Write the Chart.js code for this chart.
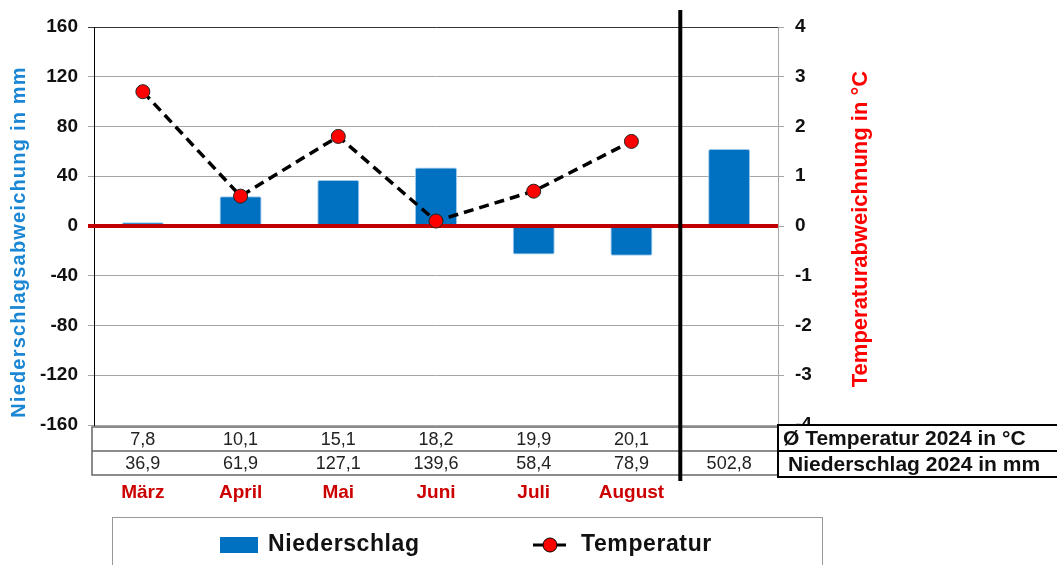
<!DOCTYPE html>
<html>
<head>
<meta charset="utf-8">
<script src="https://cdn.jsdelivr.net/npm/chart.js@4.4.1/dist/chart.umd.min.js"></script>
<style>
  html, body { margin: 0; padding: 0; background: #fff; }
  #wrap { width: 1057px; height: 565px; }
</style>
</head>
<body>
<div id="wrap"><canvas id="klimaChart" width="1057" height="565"></canvas></div>
<script>
// Werte
const monate = ['März', 'April', 'Mai', 'Juni', 'Juli', 'August', ''];
const niederschlagAbw = [3, 24, 37, 47, -23, -24, 62];
const temperaturAbw = [2.7, 0.6, 1.8, 0.1, 0.7, 1.7, null];
const tempMittel = ['7,8', '10,1', '15,1', '18,2', '19,9', '20,1', ''];
const niederschlagSumme = ['36,9', '61,9', '127,1', '139,6', '58,4', '78,9', '502,8'];
const zeilenTitel = ['Ø Temperatur 2024 in °C', 'Niederschlag 2024 in mm'];
const titelLinks = 'Niederschlagsabweichung in mm';
const titelRechts = 'Temperaturabweichnung in °C';

const FONT = "'Liberation Sans', Arial, sans-serif";
const BLAU = '#0070c0';
const ROT = '#ff0000';

const extras = {
  id: 'extras',
  // rote Nulllinie über den Balken, unter der Temperaturlinie
  afterDatasetDraw(chart, args) {
    if (args.index !== 0) return;
    const { ctx, chartArea, scales } = chart;
    const y0 = scales.y.getPixelForValue(0);
    ctx.save();
    ctx.strokeStyle = '#c00000';
    ctx.lineWidth = 4;
    ctx.beginPath();
    ctx.moveTo(chartArea.left - 6, y0);
    ctx.lineTo(chartArea.right, y0);
    ctx.stroke();
    ctx.restore();
  },
  afterDraw(chart) {
    const { ctx, chartArea, scales } = chart;
    const x = scales.x;
    ctx.save();

    // Achsentitel
    ctx.textAlign = 'center';
    ctx.textBaseline = 'middle';
    ctx.font = 'bold 20px ' + FONT;
    ctx.letterSpacing = '1.2px';
    ctx.fillStyle = '#1a86d4';
    ctx.translate(19, 242);
    ctx.rotate(-Math.PI / 2);
    ctx.fillText(titelLinks, 0, 0);
    ctx.setTransform(1, 0, 0, 1, 0, 0);
    ctx.letterSpacing = '0px';
    ctx.font = 'bold 22px ' + FONT;
    ctx.fillStyle = ROT;
    ctx.translate(861, 229);
    ctx.rotate(-Math.PI / 2);
    ctx.fillText(titelRechts, 0, 0);
    ctx.setTransform(1, 0, 0, 1, 0, 0);

    // Tabelle unter dem Diagramm
    const tLeft = chartArea.left - 2, tRight = chartArea.right;
    const r0 = 427, r1 = 451, r2 = 475;
    ctx.fillStyle = '#fff';
    ctx.fillRect(tLeft, r0, tRight - tLeft, r2 - r0);
    ctx.strokeStyle = '#666';
    ctx.lineWidth = 1.5;
    ctx.strokeRect(tLeft, r0, tRight - tLeft, r2 - r0);
    ctx.beginPath();
    ctx.moveTo(tLeft, r1); ctx.lineTo(tRight, r1);
    ctx.stroke();

    ctx.font = '18px ' + FONT;
    ctx.fillStyle = '#222';
    ctx.textAlign = 'center';
    for (let i = 0; i < monate.length; i++) {
      const cx = x.getPixelForValue(i);
      ctx.fillText(tempMittel[i], cx, (r0 + r1) / 2 + 1);
      ctx.fillText(niederschlagSumme[i], cx, (r1 + r2) / 2 + 1);
    }

    // Zeilenbeschriftung rechts
    ctx.fillStyle = '#fff';
    ctx.fillRect(tRight, r0 - 2, 300, r2 - r0 + 4);
    ctx.strokeStyle = '#000';
    ctx.lineWidth = 2;
    ctx.strokeRect(tRight, r0 - 2, 300, r1 - r0 + 2);
    ctx.strokeRect(tRight, r1, 300, r2 - r1 + 2);
    ctx.font = 'bold 21px ' + FONT;
    ctx.fillStyle = '#111';
    ctx.textAlign = 'left';
    ctx.fillText(zeilenTitel[0], tRight + 5, (r0 + r1) / 2);
    ctx.fillText(zeilenTitel[1], tRight + 10, (r1 + r2) / 2 + 2);

    // senkrechte Trennlinie vor der Jahressumme
    const xs = (x.getPixelForValue(5) + x.getPixelForValue(6)) / 2;
    ctx.strokeStyle = '#000';
    ctx.lineWidth = 4;
    ctx.beginPath();
    ctx.moveTo(xs, 10);
    ctx.lineTo(xs, 481);
    ctx.stroke();

    // Legende
    ctx.strokeStyle = '#999';
    ctx.lineWidth = 1;
    ctx.strokeRect(112.5, 517.5, 710, 60);
    const ds = chart.data.datasets;
    ctx.fillStyle = BLAU;
    ctx.fillRect(220, 537, 38, 16);
    ctx.font = 'bold 23px ' + FONT;
    ctx.letterSpacing = '0.6px';
    ctx.fillStyle = '#111';
    ctx.textBaseline = 'middle';
    ctx.fillText(ds[0].label, 268, 545);
    ctx.strokeStyle = '#000';
    ctx.lineWidth = 3;
    ctx.beginPath();
    ctx.moveTo(533, 545); ctx.lineTo(566, 545);
    ctx.stroke();
    ctx.fillStyle = ROT;
    ctx.lineWidth = 1;
    ctx.beginPath();
    ctx.arc(550, 545, 7, 0, Math.PI * 2);
    ctx.fill(); ctx.stroke();
    ctx.fillStyle = '#111';
    ctx.fillText(ds[1].label, 581, 545);

    ctx.restore();
  }
};

const ctx = document.getElementById('klimaChart').getContext('2d');
new Chart(ctx, {
  type: 'bar',
  data: {
    labels: monate,
    datasets: [{
      type: 'bar',
      label: 'Niederschlag',
      data: niederschlagAbw,
      yAxisID: 'y',
      backgroundColor: BLAU,
      borderColor: '#9cc8ec',
      borderWidth: 1,
      borderRadius: 2,
      barPercentage: 0.86,
      categoryPercentage: 0.5,
      order: 1
    }, {
      type: 'line',
      label: 'Temperatur',
      data: temperaturAbw,
      yAxisID: 'y1',
      borderColor: '#000',
      borderWidth: 3.5,
      borderDash: [10, 6],
      pointRadius: 7,
      pointBackgroundColor: ROT,
      pointBorderColor: '#222',
      pointBorderWidth: 1,
      fill: false,
      tension: 0,
      order: 0
    }]
  },
  options: {
    responsive: false,
    animation: false,
    devicePixelRatio: 1,
    layout: { padding: { top: 27, left: 0, right: 0, bottom: 0 } },
    plugins: {
      legend: { display: false },
      tooltip: { enabled: false }
    },
    scales: {
      x: {
        grid: { display: false, drawTicks: false },
        border: { display: false },
        ticks: {
          color: '#cc0000',
          font: { family: FONT, size: 19, weight: 'bold' },
          padding: 56,
          maxRotation: 0
        },
        afterFit(scale) { scale.height = 140; }
      },
      y: {
        position: 'left',
        min: -160,
        max: 160,
        ticks: {
          stepSize: 40,
          color: '#111',
          padding: 10,
          font: { family: FONT, size: 19, weight: 'bold' }
        },
        grid: {
          color: c => (c.tick && c.tick.value === 160 ? '#333' : '#a6a6a6'),
          tickLength: 6,
          lineWidth: 1
        },
        border: { color: '#000', width: 1 },
        afterFit(scale) { scale.width = 94; }
      },
      y1: {
        position: 'right',
        min: -4,
        max: 4,
        ticks: {
          stepSize: 1,
          color: '#111',
          padding: 11,
          font: { family: FONT, size: 19, weight: 'bold' }
        },
        grid: { drawOnChartArea: false, color: '#a6a6a6', tickLength: 6 },
        border: { color: '#a6a6a6', width: 1 },
        afterFit(scale) { scale.width = 279; }
      }
    }
  },
  plugins: [extras]
});
</script>
</body>
</html>
